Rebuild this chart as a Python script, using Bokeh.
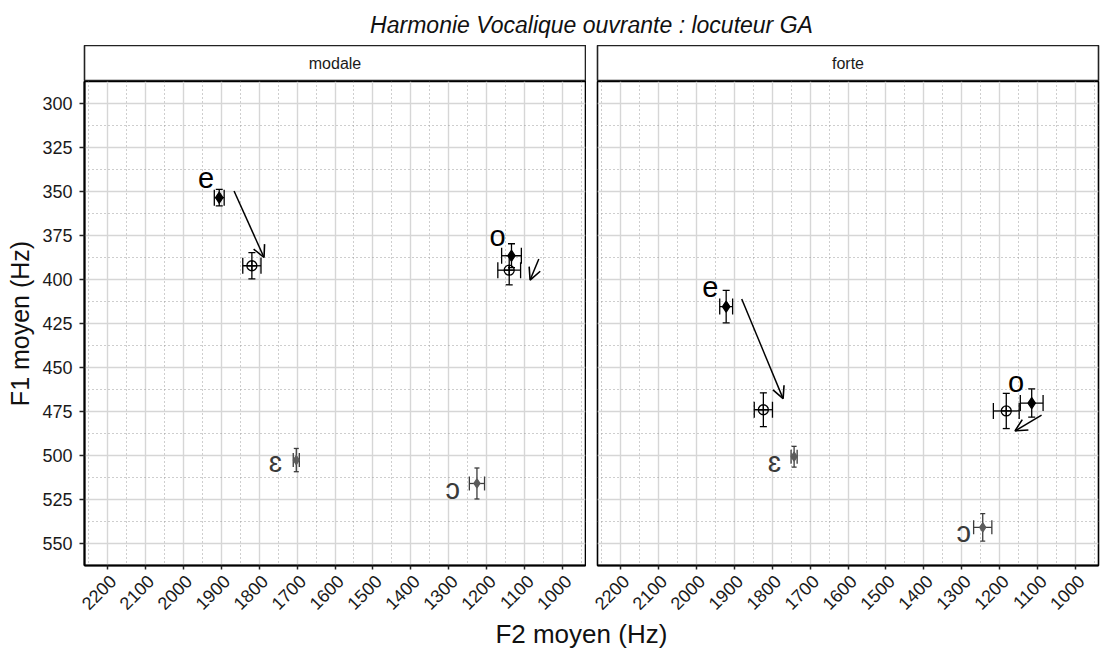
import math
from bokeh.plotting import figure
from bokeh.layouts import column, row
from bokeh.models import (Range1d, FixedTicker, ColumnDataSource, Whisker, TeeHead,
                          Arrow, OpenHead, Label, CustomJSTickFormatter)
from bokeh.core.properties import value
from bokeh.embed import file_html
from bokeh.resources import INLINE

FONT = "Liberation Sans"

# ---------------- data ----------------
title_text = "Harmonie Vocalique ouvrante : locuteur GA"
panel_names = ["modale", "forte"]
x_label = "F2 moyen (Hz)"
y_label = "F1 moyen (Hz)"

x_tick_values = [2200, 2100, 2000, 1900, 1800, 1700, 1600, 1500, 1400, 1300, 1200, 1100, 1000]
x_tick_labels = ["2200", "2100", "2000", "1900", "1800", "1700", "1600", "1500", "1400", "1300", "1200", "1100", "1000"]
x_minor_values = [2250, 2150, 2050, 1950, 1850, 1750, 1650, 1550, 1450, 1350, 1250, 1150, 1050, 950]
y_tick_values = [300, 325, 350, 375, 400, 425, 450, 475, 500, 525, 550]
y_minor_values = [312.5, 337.5, 362.5, 387.5, 412.5, 437.5, 462.5, 487.5, 512.5, 537.5]

vowels = ["e", "o"]
grey_vowels = ["ɛ", "ɔ"]

# modale
modale_ref_f2 = [1905, 1135]
modale_ref_f1 = [353.5, 386.5]
modale_ref_f2_err = [13, 26]
modale_ref_f1_err = [4.7, 6.8]
modale_harm_f2 = [1819, 1141]
modale_harm_f1 = [392.2, 394.7]
modale_harm_f2_err = [24, 30]
modale_harm_f1_err = [7.5, 8.3]
modale_grey_f2 = [1702, 1226]
modale_grey_f1 = [502.6, 515.9]
modale_grey_f2_err = [8, 20]
modale_grey_f1_err = [6.6, 8.8]
modale_lab_f2 = [1940, 1172]
modale_lab_f1 = [342.2, 375.2]
modale_glab_f2 = [1757, 1290]
modale_glab_f1 = [503.6, 519.2]
modale_arrow_f2_start = [1866, 1063]
modale_arrow_f1_start = [349.7, 388.4]
modale_arrow_f2_end = [1787, 1086]
modale_arrow_f1_end = [387.5, 400.3]

# forte
forte_ref_f2 = [1921, 1116]
forte_ref_f1 = [415.4, 470.2]
forte_ref_f2_err = [17, 30]
forte_ref_f1_err = [9.2, 8.0]
forte_harm_f2 = [1823, 1183]
forte_harm_f1 = [474.0, 474.7]
forte_harm_f2_err = [24, 34]
forte_harm_f1_err = [9.6, 10.0]
forte_grey_f2 = [1742, 1245]
forte_grey_f1 = [500.7, 540.8]
forte_grey_f2_err = [8, 24]
forte_grey_f1_err = [5.9, 7.8]
forte_lab_f2 = [1963, 1157]
forte_lab_f1 = [404.5, 458.3]
forte_glab_f2 = [1794, 1295]
forte_glab_f1 = [503.6, 543.2]
forte_arrow_f2_start = [1880, 1090]
forte_arrow_f1_start = [411.1, 477.1]
forte_arrow_f2_end = [1771, 1160]
forte_arrow_f1_end = [467.7, 486.0]

panel_data = {
    "modale": dict(ref=(modale_ref_f2, modale_ref_f1, modale_ref_f2_err, modale_ref_f1_err),
                   harm=(modale_harm_f2, modale_harm_f1, modale_harm_f2_err, modale_harm_f1_err),
                   grey=(modale_grey_f2, modale_grey_f1, modale_grey_f2_err, modale_grey_f1_err),
                   lab=(modale_lab_f2, modale_lab_f1), glab=(modale_glab_f2, modale_glab_f1),
                   arrow=(modale_arrow_f2_start, modale_arrow_f1_start, modale_arrow_f2_end, modale_arrow_f1_end)),
    "forte": dict(ref=(forte_ref_f2, forte_ref_f1, forte_ref_f2_err, forte_ref_f1_err),
                  harm=(forte_harm_f2, forte_harm_f1, forte_harm_f2_err, forte_harm_f1_err),
                  grey=(forte_grey_f2, forte_grey_f1, forte_grey_f2_err, forte_grey_f1_err),
                  lab=(forte_lab_f2, forte_lab_f1), glab=(forte_glab_f2, forte_glab_f1),
                  arrow=(forte_arrow_f2_start, forte_arrow_f1_start, forte_arrow_f2_end, forte_arrow_f1_end)),
}

X_START, X_END = 2260, 940
Y_BOTTOM, Y_TOP = 562.5, 287.5

FRAME_W = 501
LEFT_BL, LEFT_BR = 84, 1
RIGHT_BL, RIGHT_BR = 11, 2
LEFT_W = LEFT_BL + FRAME_W + LEFT_BR
RIGHT_W = RIGHT_BL + FRAME_W + RIGHT_BR
TOTAL_W = LEFT_W + RIGHT_W
SPAN_BR = RIGHT_BR

TITLE_H = 45
STRIP_H = 36
PANEL_FRAME_H = 484
PANEL_BB = 6
PANEL_H = PANEL_FRAME_H + PANEL_BB
TICKLAB_H = 47
XLAB_H = 30
HZ_PER_PX = (X_START - X_END) / FRAME_W


def blank_fig(width, height, bl, br, x_range=None):
    f = figure(width=width, height=height,
               x_range=x_range if x_range is not None else Range1d(0, 1), y_range=Range1d(0, 1),
               toolbar_location=None, output_backend="svg",
               x_axis_location=None, y_axis_location=None,
               min_border_left=bl, min_border_right=br, min_border_top=0, min_border_bottom=0,
               outline_line_color=None, background_fill_color="white", border_fill_color="white")
    f.xgrid.visible = False
    f.ygrid.visible = False
    return f


# title
title_fig = blank_fig(TOTAL_W, TITLE_H, LEFT_BL, SPAN_BR)
title_fig.add_layout(Label(x=0.5, y=1 - 24 / TITLE_H, text=title_text, text_font=FONT,
                           text_font_style="italic", text_font_size="23px", text_color="#111111",
                           text_align="center", text_baseline="middle"))


def strip_fig(name, width, bl, br):
    f = blank_fig(width, STRIP_H, bl, br)
    f.outline_line_color = "#222222"
    f.outline_line_width = 1.6
    f.add_layout(Label(x=0.5, y=0.5, text=name, text_font=FONT, text_font_size="16px",
                       text_color="#1a1a1a", text_align="center", text_baseline="middle"))
    return f


strips = [strip_fig(panel_names[0], LEFT_W, LEFT_BL, LEFT_BR),
          strip_fig(panel_names[1], RIGHT_W, RIGHT_BL, RIGHT_BR)]


def ticklab_fig(width, bl, br):
    # same Hz-per-pixel mapping as the panel above, with the frame covering the whole canvas
    rng = Range1d(X_START + bl * HZ_PER_PX, X_END - br * HZ_PER_PX)
    f = blank_fig(width, TICKLAB_H, 0, 0, x_range=rng)
    f.text(x=x_tick_values, y=[1 - 2 / TICKLAB_H] * len(x_tick_values), text=x_tick_labels,
           angle=math.pi / 4, x_offset=1,
           text_font=value(FONT), text_font_size="18px", text_color="#1a1a1a",
           text_align="right", text_baseline="top")
    return f


ticklabs = [ticklab_fig(LEFT_W, LEFT_BL, LEFT_BR), ticklab_fig(RIGHT_W, RIGHT_BL, RIGHT_BR)]


def panel_fig(name, width, bl, br, show_y):
    d = panel_data[name]
    f = figure(width=width, height=PANEL_H, x_range=Range1d(X_START, X_END),
               y_range=Range1d(Y_BOTTOM, Y_TOP),
               toolbar_location=None, output_backend="svg",
               y_axis_location="left" if show_y else None,
               min_border_left=bl, min_border_right=br, min_border_top=0, min_border_bottom=PANEL_BB,
               outline_line_color="black", outline_line_width=1.6,
               background_fill_color="white", border_fill_color="white")
    xt = FixedTicker(ticks=x_tick_values, minor_ticks=x_minor_values)
    yt = FixedTicker(ticks=y_tick_values, minor_ticks=y_minor_values)
    f.xaxis.ticker = xt
    f.xgrid.ticker = xt
    f.ygrid.ticker = yt
    for g in (f.xgrid, f.ygrid):
        g.grid_line_color = "#d6d6d6"
        g.grid_line_width = 1.4
        g.minor_grid_line_color = "#9c9c9c"
        g.minor_grid_line_dash = "1 3"
        g.minor_grid_line_width = 1
    xa = f.xaxis[0]
    xa.formatter = CustomJSTickFormatter(code="return ''")
    xa.axis_line_width = 2
    xa.axis_line_color = "black"
    xa.major_tick_line_color = "#222222"
    xa.major_tick_line_width = 1.5
    xa.major_tick_out = 4
    xa.major_tick_in = 0
    xa.minor_tick_line_color = None
    xa.major_label_text_font_size = "1px"
    xa.major_label_standoff = 0

    if show_y:
        ya = f.yaxis[0]
        ya.ticker = yt
        ya.axis_label = y_label
        ya.axis_label_text_font = FONT
        ya.axis_label_text_font_size = "25px"
        ya.axis_label_text_font_style = "normal"
        ya.axis_label_text_color = "#111111"
        ya.axis_label_standoff = 5
        ya.axis_line_width = 2
        ya.axis_line_color = "black"
        ya.major_tick_line_color = "#222222"
        ya.major_tick_line_width = 1.5
        ya.major_tick_out = 5
        ya.major_tick_in = 0
        ya.minor_tick_line_color = None
        ya.major_label_text_font = FONT
        ya.major_label_text_font_size = "18px"
        ya.major_label_text_color = "#1a1a1a"
        ya.major_label_standoff = 7

    def add_series(key, marker, size, fill, line, bar_color, cap_v, cap_h):
        f2, f1, e2, e1 = d[key]
        src = ColumnDataSource(dict(
            f2=f2, f1=f1,
            f1_lo=[a - b for a, b in zip(f1, e1)], f1_hi=[a + b for a, b in zip(f1, e1)],
            f2_lo=[a - b for a, b in zip(f2, e2)], f2_hi=[a + b for a, b in zip(f2, e2)]))
        f.add_layout(Whisker(source=src, base="f2", lower="f1_lo", upper="f1_hi", dimension="height",
                             line_color=bar_color, line_width=1.3,
                             upper_head=TeeHead(size=cap_v, line_color=bar_color, line_width=1.3),
                             lower_head=TeeHead(size=cap_v, line_color=bar_color, line_width=1.3)))
        f.add_layout(Whisker(source=src, base="f1", lower="f2_lo", upper="f2_hi", dimension="width",
                             line_color=bar_color, line_width=1.3,
                             upper_head=TeeHead(size=cap_h, line_color=bar_color, line_width=1.3),
                             lower_head=TeeHead(size=cap_h, line_color=bar_color, line_width=1.3)))
        f.scatter(x="f2", y="f1", source=src, marker=marker, size=size,
                  fill_color=fill, line_color=line, line_width=1.3)

    add_series("grey", "diamond", 9, "#5c5c5c", "#5c5c5c", "#3c3c3c", 5, 14)
    add_series("harm", "circle_cross", 10, None, "black", "black", 7, 16)
    add_series("ref", "diamond", 11, "black", "black", "black", 7, 16)

    a2s, a1s, a2e, a1e = d["arrow"]
    asrc = ColumnDataSource(dict(x0=a2s, y0=a1s, x1=a2e, y1=a1e))
    f.add_layout(Arrow(source=asrc, x_start="x0", y_start="y0", x_end="x1", y_end="y1",
                       line_color="black", line_width=1.5,
                       end=OpenHead(size=12, line_color="black", line_width=1.6)))

    lf2, lf1 = d["lab"]
    f.text(x=lf2, y=lf1, text=vowels, text_font=value(FONT), text_font_size="29px",
           text_color="black", text_align="center", text_baseline="middle")
    gf2, gf1 = d["glab"]
    f.text(x=gf2, y=gf1, text=grey_vowels, text_font=value(FONT), text_font_size="29px",
           text_color="#3a3a3a", text_align="center", text_baseline="middle")
    return f


panels = [panel_fig(panel_names[0], LEFT_W, LEFT_BL, LEFT_BR, True),
          panel_fig(panel_names[1], RIGHT_W, RIGHT_BL, RIGHT_BR, False)]

xlab_fig = blank_fig(TOTAL_W, XLAB_H, LEFT_BL, SPAN_BR)
xlab_fig.add_layout(Label(x=0.49, y=0.5, text=x_label, text_font=FONT, text_font_size="26px",
                          text_color="#111111", text_align="center", text_baseline="middle"))

layout = column(title_fig,
                row(strips[0], strips[1], spacing=0),
                row(panels[0], panels[1], spacing=0),
                row(ticklabs[0], ticklabs[1], spacing=0),
                xlab_fig, spacing=0)

open("out.html", "w").write(file_html(layout, INLINE))
